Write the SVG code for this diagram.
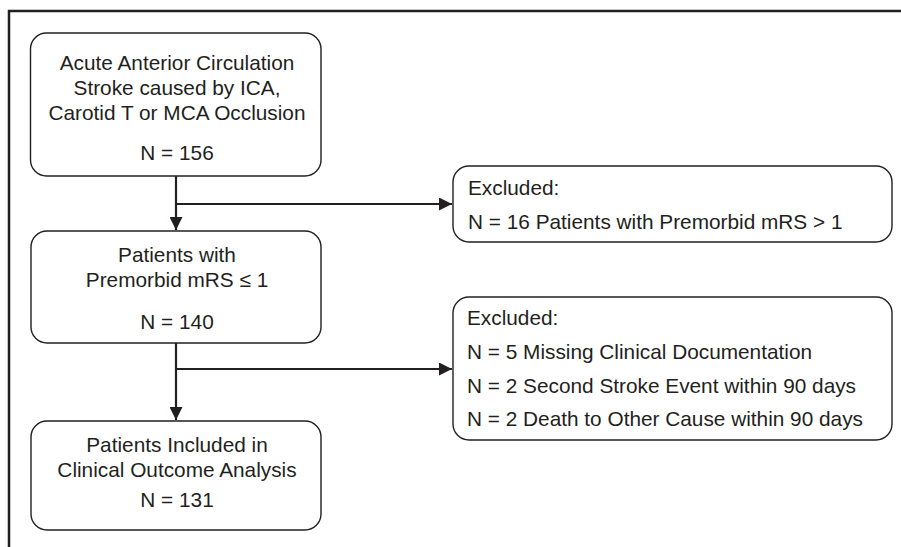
<svg xmlns="http://www.w3.org/2000/svg" width="901" height="547" viewBox="0 0 901 547">
<style>
.box{fill:#fff;stroke:#231f20;stroke-width:1.4}
.frame{fill:none;stroke:#231f20;stroke-width:2.5}
.conn{fill:none;stroke:#231f20;stroke-width:2.2}
text{font-family:"Liberation Sans",Arial,sans-serif;font-size:20.8px;fill:#231f20}
.c{text-anchor:middle}
</style>
<defs>
<marker id="ah" viewBox="0 0 10 10" refX="10" refY="5" markerWidth="13" markerHeight="13" markerUnits="userSpaceOnUse" orient="auto">
<path d="M0,0 L10,5 L0,10 Z" fill="#231f20"/>
</marker>
</defs>
<path class="frame" d="M9,547 V11 H901"/>
<g id="connectors">
<path class="conn" d="M176,176 V230" marker-end="url(#ah)"/>
<path class="conn" d="M176,204 H452" marker-end="url(#ah)"/>
<path class="conn" d="M176,343 V420" marker-end="url(#ah)"/>
<path class="conn" d="M176,369 H452" marker-end="url(#ah)"/>
</g>
<g id="n1">
<rect class="box" x="30.5" y="33" width="290.5" height="143" rx="16"/>
<text class="c" x="177" y="70">Acute Anterior Circulation</text>
<text class="c" x="177" y="95">Stroke caused by ICA,</text>
<text class="c" x="177" y="120">Carotid T or MCA Occlusion</text>
<text class="c" x="177" y="160">N = 156</text>
</g>
<g id="n2">
<rect class="box" x="31" y="231" width="290" height="112" rx="16"/>
<text class="c" x="177" y="262">Patients with</text>
<text class="c" x="177" y="287">Premorbid mRS ≤ 1</text>
<text class="c" x="177" y="329">N = 140</text>
</g>
<g id="n3">
<rect class="box" x="31" y="421" width="290" height="109" rx="16"/>
<text class="c" x="177" y="452">Patients Included in</text>
<text class="c" x="177" y="477">Clinical Outcome Analysis</text>
<text class="c" x="177" y="507">N = 131</text>
</g>
<g id="ex1">
<rect class="box" x="453" y="166" width="439" height="76" rx="16"/>
<text x="468" y="195">Excluded:</text>
<text x="468" y="229">N = 16 Patients with Premorbid mRS &gt; 1</text>
</g>
<g id="ex2">
<rect class="box" x="453" y="297" width="439" height="143" rx="16"/>
<text x="467" y="325">Excluded:</text>
<text x="467" y="359">N = 5 Missing Clinical Documentation</text>
<text x="467" y="393">N = 2 Second Stroke Event within 90 days</text>
<text x="467" y="426">N = 2 Death to Other Cause within 90 days</text>
</g>
</svg>
